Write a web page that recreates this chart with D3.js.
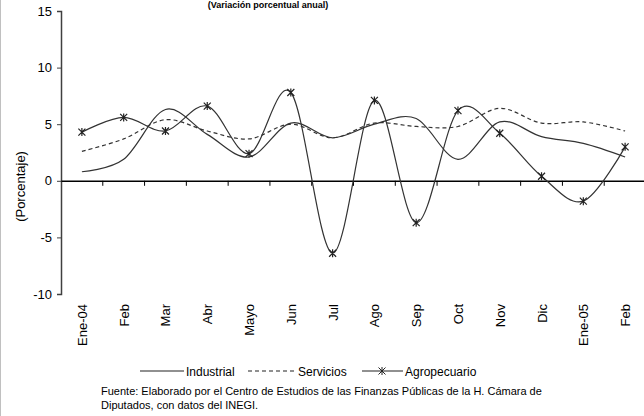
<!DOCTYPE html>
<meta charset="utf-8">

<head>
    <title>Variación porcentual anual</title>
    <script type="text/javascript" src="https://d3js.org/d3.v7.min.js"></script>
    <style>
        body {
            margin: 0;
            background: white;
        }

        svg text {
            font-family: "Liberation Sans", Arial, sans-serif;
            fill: #000;
        }
    </style>
</head>

<body>
    <div id="chart"></div>

    <script>
        // categories and series
        var months = ["Ene-04", "Feb", "Mar", "Abr", "Mayo", "Jun", "Jul", "Ago", "Sep", "Oct", "Nov", "Dic", "Ene-05", "Feb "];
        var industrial = [0.8, 1.9, 6.3, 4.1, 2.1, 5.1, 3.8, 5.0, 5.5, 1.9, 5.2, 3.9, 3.3, 2.1];
        var servicios = [2.6, 3.7, 5.4, 4.4, 3.7, 5.0, 3.8, 5.1, 4.8, 4.8, 6.4, 5.1, 5.2, 4.4];
        var agropecuario = [4.3, 5.6, 4.4, 6.6, 2.4, 7.8, -6.4, 7.1, -3.7, 6.2, 4.2, 0.4, -1.8, 3.0];
        var yTicks = [-10, -5, 0, 5, 10, 15];

        var width = 644;
        var height = 416;

        var svg = d3.select("#chart")
            .append("svg")
            .attr("width", width)
            .attr("height", height);

        // thin grey frame on the left edge
        svg.append("line")
            .attr("x1", 0.5).attr("x2", 0.5)
            .attr("y1", 0).attr("y2", height)
            .attr("stroke", "#c0c0c0");

        // subtitle (cut off at the top in the original, kept just inside here)
        svg.append("text")
            .attr("x", 268)
            .attr("y", 8)
            .attr("text-anchor", "middle")
            .style("font-size", "9px")
            .style("font-weight", "bold")
            .text("(Variación porcentual anual)");

        var x = d3.scaleBand()
            .domain(months)
            .range([61, 646])
            .padding(0);

        var y = d3.scaleLinear()
            .domain([-10, 15])
            .range([294, 11]);

        // y axis, plain hyphen for negatives like the original
        var yAxis = svg.append("g")
            .attr("transform", "translate(61,0)")
            .call(d3.axisLeft(y).tickValues(yTicks).tickSize(4).tickPadding(5)
                .tickFormat(function (d) { return String(d); }));
        yAxis.select(".domain").attr("stroke", "#404040").attr("stroke-width", 1.5);
        yAxis.selectAll(".tick line").attr("stroke", "#404040");
        yAxis.selectAll(".tick text").style("font-size", "13px").attr("fill", "#000");

        svg.append("text")
            .attr("transform", "translate(25," + y(-0.5) + ") rotate(-90)")
            .attr("text-anchor", "middle")
            .style("font-size", "13px")
            .text("(Porcentaje)");

        // category axis on the zero line
        var xAxis = svg.append("g")
            .attr("transform", "translate(0," + y(0) + ")")
            .call(d3.axisBottom(x).tickSize(0).tickFormat(""));
        xAxis.select(".domain").attr("stroke", "#000").attr("stroke-width", 1.5);
        xAxis.selectAll(".tick").remove();

        // tick marks at the category boundaries
        svg.selectAll(".bound")
            .data(months.slice(1))
            .enter()
            .append("line")
            .attr("class", "bound")
            .attr("x1", function (d) { return x(d); })
            .attr("x2", function (d) { return x(d); })
            .attr("y1", y(0))
            .attr("y2", y(0) + 5)
            .attr("stroke", "#000");

        // month labels, rotated
        svg.selectAll(".mlabel")
            .data(months)
            .enter()
            .append("text")
            .attr("class", "mlabel")
            .attr("transform", function (d) {
                return "translate(" + (x(d) + x.bandwidth() / 2 + 5) + ",304) rotate(-90)";
            })
            .attr("text-anchor", "end")
            .style("font-size", "13px")
            .text(function (d) { return d.trim(); });

        // smooth lines
        var line = d3.line()
            .x(function (d, i) { return x(months[i]) + x.bandwidth() / 2; })
            .y(function (d) { return y(d); })
            .curve(d3.curveCatmullRom.alpha(0));

        svg.append("path")
            .datum(industrial)
            .attr("d", line)
            .attr("fill", "none")
            .attr("stroke", "#333")
            .attr("stroke-width", 1.2);

        svg.append("path")
            .datum(servicios)
            .attr("d", line)
            .attr("fill", "none")
            .attr("stroke", "#333")
            .attr("stroke-width", 1.2)
            .attr("stroke-dasharray", "4,3");

        svg.append("path")
            .datum(agropecuario)
            .attr("d", line)
            .attr("fill", "none")
            .attr("stroke", "#333")
            .attr("stroke-width", 1.2);

        // asterisk marker
        var star = "M-3.5,-3.5L3.5,3.5M-3.5,3.5L3.5,-3.5M0,-4L0,4";

        svg.selectAll(".agro")
            .data(agropecuario)
            .enter()
            .append("path")
            .attr("class", "agro")
            .attr("transform", function (d, i) {
                return "translate(" + (x(months[i]) + x.bandwidth() / 2) + "," + y(d) + ")";
            })
            .attr("d", star)
            .attr("fill", "none")
            .attr("stroke", "#222")
            .attr("stroke-width", 1.2);

        // legend
        var legend = svg.append("g").attr("transform", "translate(0,371)");

        legend.append("line")
            .attr("x1", 140).attr("x2", 184)
            .attr("y1", 0).attr("y2", 0)
            .attr("stroke", "#222").attr("stroke-width", 1.2);
        legend.append("text")
            .attr("x", 186).attr("y", 4.5)
            .style("font-size", "12px")
            .text("Industrial");

        legend.append("line")
            .attr("x1", 248).attr("x2", 295)
            .attr("y1", 0).attr("y2", 0)
            .attr("stroke", "#222").attr("stroke-width", 1.2)
            .attr("stroke-dasharray", "4,3");
        legend.append("text")
            .attr("x", 298).attr("y", 4.5)
            .style("font-size", "12px")
            .text("Servicios");

        legend.append("line")
            .attr("x1", 362).attr("x2", 403)
            .attr("y1", 0).attr("y2", 0)
            .attr("stroke", "#222").attr("stroke-width", 1.2);
        legend.append("path")
            .attr("transform", "translate(382,0)")
            .attr("d", star)
            .attr("fill", "none")
            .attr("stroke", "#222");
        legend.append("text")
            .attr("x", 405).attr("y", 4.5)
            .style("font-size", "12px")
            .text("Agropecuario");

        // source note
        svg.append("text")
            .attr("x", 101).attr("y", 395)
            .style("font-size", "11px")
            .text("Fuente: Elaborado por el Centro de Estudios de las Finanzas Públicas de la H. Cámara de");
        svg.append("text")
            .attr("x", 101).attr("y", 409)
            .style("font-size", "11px")
            .text("Diputados, con datos del INEGI.");
    </script>
</body>

</html>
